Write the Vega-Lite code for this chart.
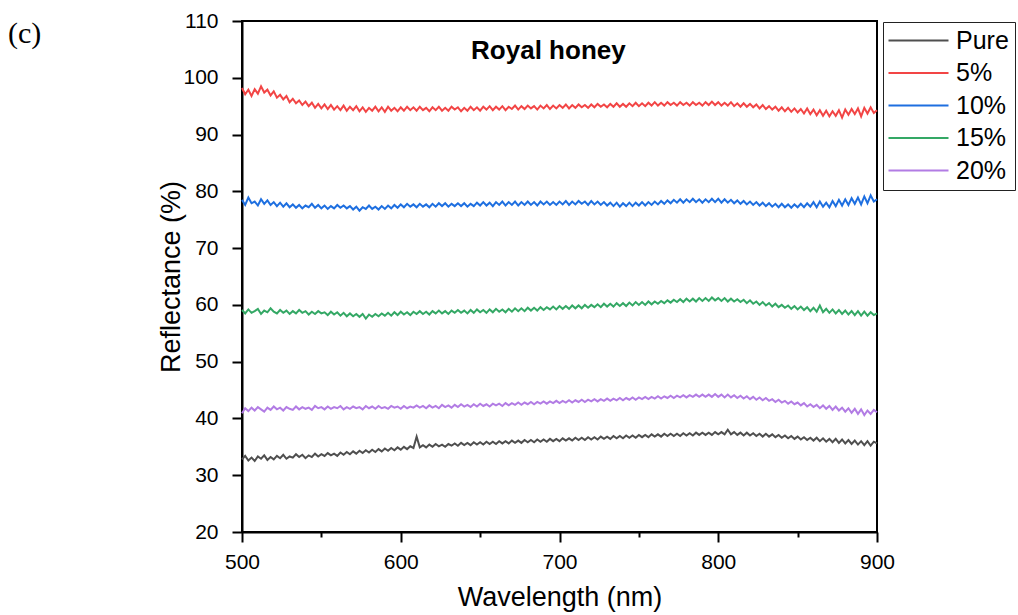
{
"$schema": "https://vega.github.io/schema/vega-lite/v6.json",
"width": 635, "height": 511,
"autosize": {"type": "none"},
"padding": {"left": 242, "top": 21, "right": 141, "bottom": 83},
"background": "white",
"title": {"text": "(c)", "anchor": "start", "frame": "group", "dx": -234, "dy": 43, "font": "Liberation Serif", "fontSize": 30, "fontWeight": "normal", "color": "black"},
"datasets": {
"pure": [{"w":500,"r":32.8},{"w":502,"r":33.4},{"w":504,"r":32.6},{"w":506,"r":33.1},{"w":508,"r":32.5},{"w":510,"r":33.3},{"w":512,"r":32.9},{"w":514,"r":33.5},{"w":516,"r":32.7},{"w":518,"r":33.2},{"w":520,"r":32.8},{"w":522,"r":33.4},{"w":524,"r":33.0},{"w":526,"r":33.6},{"w":528,"r":32.9},{"w":530,"r":33.3},{"w":532,"r":33.1},{"w":534,"r":33.7},{"w":536,"r":33.2},{"w":538,"r":33.6},{"w":540,"r":33.0},{"w":542,"r":33.5},{"w":544,"r":33.2},{"w":546,"r":33.8},{"w":548,"r":33.3},{"w":550,"r":33.7},{"w":552,"r":33.4},{"w":554,"r":33.9},{"w":556,"r":33.5},{"w":558,"r":33.8},{"w":560,"r":33.4},{"w":562,"r":34.0},{"w":564,"r":33.6},{"w":566,"r":34.1},{"w":568,"r":33.7},{"w":570,"r":34.2},{"w":572,"r":33.8},{"w":574,"r":34.3},{"w":576,"r":33.9},{"w":578,"r":34.4},{"w":580,"r":34.0},{"w":582,"r":34.5},{"w":584,"r":34.1},{"w":586,"r":34.6},{"w":588,"r":34.2},{"w":590,"r":34.7},{"w":592,"r":34.3},{"w":594,"r":34.8},{"w":596,"r":34.4},{"w":598,"r":34.9},{"w":600,"r":34.5},{"w":602,"r":35.0},{"w":604,"r":34.6},{"w":606,"r":35.1},{"w":608,"r":34.8},{"w":610,"r":36.8},{"w":612,"r":34.9},{"w":614,"r":35.3},{"w":616,"r":34.9},{"w":618,"r":35.4},{"w":620,"r":35.0},{"w":622,"r":35.5},{"w":624,"r":35.1},{"w":626,"r":35.4},{"w":628,"r":35.0},{"w":630,"r":35.5},{"w":632,"r":35.2},{"w":634,"r":35.6},{"w":636,"r":35.2},{"w":638,"r":35.7},{"w":640,"r":35.3},{"w":642,"r":35.7},{"w":644,"r":35.3},{"w":646,"r":35.8},{"w":648,"r":35.4},{"w":650,"r":35.8},{"w":652,"r":35.4},{"w":654,"r":35.9},{"w":656,"r":35.5},{"w":658,"r":35.9},{"w":660,"r":35.5},{"w":662,"r":36.0},{"w":664,"r":35.6},{"w":666,"r":36.0},{"w":668,"r":35.6},{"w":670,"r":36.1},{"w":672,"r":35.7},{"w":674,"r":36.1},{"w":676,"r":35.7},{"w":678,"r":36.2},{"w":680,"r":35.8},{"w":682,"r":36.2},{"w":684,"r":35.8},{"w":686,"r":36.3},{"w":688,"r":35.9},{"w":690,"r":36.3},{"w":692,"r":35.9},{"w":694,"r":36.4},{"w":696,"r":36.0},{"w":698,"r":36.4},{"w":700,"r":36.0},{"w":702,"r":36.5},{"w":704,"r":36.1},{"w":706,"r":36.5},{"w":708,"r":36.1},{"w":710,"r":36.6},{"w":712,"r":36.2},{"w":714,"r":36.6},{"w":716,"r":36.2},{"w":718,"r":36.7},{"w":720,"r":36.3},{"w":722,"r":36.7},{"w":724,"r":36.3},{"w":726,"r":36.8},{"w":728,"r":36.4},{"w":730,"r":36.8},{"w":732,"r":36.4},{"w":734,"r":36.9},{"w":736,"r":36.5},{"w":738,"r":36.9},{"w":740,"r":36.5},{"w":742,"r":37.0},{"w":744,"r":36.6},{"w":746,"r":37.0},{"w":748,"r":36.6},{"w":750,"r":37.1},{"w":752,"r":36.7},{"w":754,"r":37.1},{"w":756,"r":36.7},{"w":758,"r":37.2},{"w":760,"r":36.8},{"w":762,"r":37.2},{"w":764,"r":36.8},{"w":766,"r":37.3},{"w":768,"r":36.9},{"w":770,"r":37.3},{"w":772,"r":36.9},{"w":774,"r":37.3},{"w":776,"r":36.9},{"w":778,"r":37.4},{"w":780,"r":37.0},{"w":782,"r":37.4},{"w":784,"r":37.0},{"w":786,"r":37.5},{"w":788,"r":37.1},{"w":790,"r":37.5},{"w":792,"r":37.1},{"w":794,"r":37.5},{"w":796,"r":37.1},{"w":798,"r":37.6},{"w":800,"r":37.2},{"w":802,"r":37.6},{"w":804,"r":37.2},{"w":806,"r":38.0},{"w":808,"r":37.2},{"w":810,"r":37.6},{"w":812,"r":37.1},{"w":814,"r":37.5},{"w":816,"r":37.0},{"w":818,"r":37.5},{"w":820,"r":37.0},{"w":822,"r":37.4},{"w":824,"r":36.9},{"w":826,"r":37.3},{"w":828,"r":36.8},{"w":830,"r":37.3},{"w":832,"r":36.8},{"w":834,"r":37.2},{"w":836,"r":36.7},{"w":838,"r":37.1},{"w":840,"r":36.6},{"w":842,"r":37.0},{"w":844,"r":36.5},{"w":846,"r":36.9},{"w":848,"r":36.4},{"w":850,"r":36.8},{"w":852,"r":36.3},{"w":854,"r":36.7},{"w":856,"r":36.2},{"w":858,"r":36.6},{"w":860,"r":36.1},{"w":862,"r":36.6},{"w":864,"r":36.0},{"w":866,"r":36.5},{"w":868,"r":35.9},{"w":870,"r":36.4},{"w":872,"r":35.8},{"w":874,"r":36.4},{"w":876,"r":35.7},{"w":878,"r":36.3},{"w":880,"r":35.6},{"w":882,"r":36.2},{"w":884,"r":35.5},{"w":886,"r":36.1},{"w":888,"r":35.4},{"w":890,"r":36.0},{"w":892,"r":35.3},{"w":894,"r":36.0},{"w":896,"r":35.2},{"w":898,"r":35.9},{"w":900,"r":35.6}],
"p5": [{"w":500,"r":98.2},{"w":502,"r":97.1},{"w":504,"r":97.9},{"w":506,"r":96.8},{"w":508,"r":98.0},{"w":510,"r":97.2},{"w":512,"r":98.5},{"w":514,"r":97.4},{"w":516,"r":97.9},{"w":518,"r":96.9},{"w":520,"r":97.6},{"w":522,"r":96.5},{"w":524,"r":97.0},{"w":526,"r":96.2},{"w":528,"r":96.8},{"w":530,"r":95.7},{"w":532,"r":96.3},{"w":534,"r":95.5},{"w":536,"r":96.0},{"w":538,"r":95.2},{"w":540,"r":95.8},{"w":542,"r":95.0},{"w":544,"r":95.6},{"w":546,"r":94.7},{"w":548,"r":95.4},{"w":550,"r":94.6},{"w":552,"r":95.3},{"w":554,"r":94.5},{"w":556,"r":95.2},{"w":558,"r":94.4},{"w":560,"r":95.0},{"w":562,"r":94.3},{"w":564,"r":95.1},{"w":566,"r":94.2},{"w":568,"r":94.9},{"w":570,"r":94.3},{"w":572,"r":95.0},{"w":574,"r":94.1},{"w":576,"r":94.8},{"w":578,"r":94.0},{"w":580,"r":94.7},{"w":582,"r":94.2},{"w":584,"r":94.9},{"w":586,"r":94.1},{"w":588,"r":94.8},{"w":590,"r":94.0},{"w":592,"r":94.9},{"w":594,"r":94.2},{"w":596,"r":94.7},{"w":598,"r":94.1},{"w":600,"r":94.8},{"w":602,"r":94.2},{"w":604,"r":94.9},{"w":606,"r":94.3},{"w":608,"r":94.8},{"w":610,"r":94.2},{"w":612,"r":94.9},{"w":614,"r":94.3},{"w":616,"r":94.7},{"w":618,"r":94.1},{"w":620,"r":94.8},{"w":622,"r":94.3},{"w":624,"r":94.9},{"w":626,"r":94.2},{"w":628,"r":94.7},{"w":630,"r":94.2},{"w":632,"r":94.9},{"w":634,"r":94.4},{"w":636,"r":94.8},{"w":638,"r":94.1},{"w":640,"r":94.7},{"w":642,"r":94.2},{"w":644,"r":94.9},{"w":646,"r":94.3},{"w":648,"r":94.8},{"w":650,"r":94.2},{"w":652,"r":94.9},{"w":654,"r":94.4},{"w":656,"r":95.0},{"w":658,"r":94.3},{"w":660,"r":94.9},{"w":662,"r":94.4},{"w":664,"r":95.0},{"w":666,"r":94.3},{"w":668,"r":94.9},{"w":670,"r":94.5},{"w":672,"r":95.1},{"w":674,"r":94.4},{"w":676,"r":95.0},{"w":678,"r":94.5},{"w":680,"r":95.1},{"w":682,"r":94.6},{"w":684,"r":95.0},{"w":686,"r":94.4},{"w":688,"r":95.1},{"w":690,"r":94.6},{"w":692,"r":95.2},{"w":694,"r":94.5},{"w":696,"r":95.1},{"w":698,"r":94.6},{"w":700,"r":95.2},{"w":702,"r":94.7},{"w":704,"r":95.3},{"w":706,"r":94.6},{"w":708,"r":95.2},{"w":710,"r":94.7},{"w":712,"r":95.3},{"w":714,"r":94.8},{"w":716,"r":95.2},{"w":718,"r":94.7},{"w":720,"r":95.3},{"w":722,"r":94.8},{"w":724,"r":95.4},{"w":726,"r":94.9},{"w":728,"r":95.3},{"w":730,"r":94.8},{"w":732,"r":95.4},{"w":734,"r":94.9},{"w":736,"r":95.5},{"w":738,"r":94.9},{"w":740,"r":95.4},{"w":742,"r":94.9},{"w":744,"r":95.5},{"w":746,"r":95.0},{"w":748,"r":95.6},{"w":750,"r":95.0},{"w":752,"r":95.5},{"w":754,"r":95.0},{"w":756,"r":95.6},{"w":758,"r":95.1},{"w":760,"r":95.7},{"w":762,"r":95.1},{"w":764,"r":95.6},{"w":766,"r":95.1},{"w":768,"r":95.7},{"w":770,"r":95.2},{"w":772,"r":95.6},{"w":774,"r":95.1},{"w":776,"r":95.7},{"w":778,"r":95.2},{"w":780,"r":95.6},{"w":782,"r":95.1},{"w":784,"r":95.7},{"w":786,"r":95.2},{"w":788,"r":95.6},{"w":790,"r":95.1},{"w":792,"r":95.7},{"w":794,"r":95.2},{"w":796,"r":95.8},{"w":798,"r":95.2},{"w":800,"r":95.7},{"w":802,"r":95.1},{"w":804,"r":95.6},{"w":806,"r":95.1},{"w":808,"r":95.7},{"w":810,"r":95.0},{"w":812,"r":95.5},{"w":814,"r":94.9},{"w":816,"r":95.5},{"w":818,"r":94.9},{"w":820,"r":95.4},{"w":822,"r":94.8},{"w":824,"r":95.3},{"w":826,"r":94.6},{"w":828,"r":95.2},{"w":830,"r":94.5},{"w":832,"r":95.0},{"w":834,"r":94.4},{"w":836,"r":94.9},{"w":838,"r":94.2},{"w":840,"r":94.8},{"w":842,"r":94.1},{"w":844,"r":94.7},{"w":846,"r":94.0},{"w":848,"r":94.6},{"w":850,"r":93.9},{"w":852,"r":94.5},{"w":854,"r":93.7},{"w":856,"r":94.6},{"w":858,"r":93.6},{"w":860,"r":94.4},{"w":862,"r":93.4},{"w":864,"r":94.3},{"w":866,"r":93.3},{"w":868,"r":94.2},{"w":870,"r":93.2},{"w":872,"r":94.1},{"w":874,"r":93.3},{"w":876,"r":94.3},{"w":878,"r":93.0},{"w":880,"r":94.4},{"w":882,"r":93.5},{"w":884,"r":94.5},{"w":886,"r":93.6},{"w":888,"r":94.6},{"w":890,"r":93.2},{"w":892,"r":94.7},{"w":894,"r":93.7},{"w":896,"r":94.8},{"w":898,"r":93.8},{"w":900,"r":94.3}],
"p10": [{"w":500,"r":78.5},{"w":502,"r":77.6},{"w":504,"r":78.9},{"w":506,"r":77.9},{"w":508,"r":78.2},{"w":510,"r":77.5},{"w":512,"r":78.6},{"w":514,"r":77.8},{"w":516,"r":78.4},{"w":518,"r":77.6},{"w":520,"r":78.1},{"w":522,"r":77.4},{"w":524,"r":78.0},{"w":526,"r":77.3},{"w":528,"r":77.9},{"w":530,"r":77.2},{"w":532,"r":77.7},{"w":534,"r":77.1},{"w":536,"r":77.6},{"w":538,"r":77.0},{"w":540,"r":77.5},{"w":542,"r":77.2},{"w":544,"r":77.8},{"w":546,"r":77.1},{"w":548,"r":77.6},{"w":550,"r":77.0},{"w":552,"r":77.5},{"w":554,"r":76.9},{"w":556,"r":77.4},{"w":558,"r":77.0},{"w":560,"r":77.6},{"w":562,"r":77.1},{"w":564,"r":77.5},{"w":566,"r":77.0},{"w":568,"r":77.4},{"w":570,"r":76.8},{"w":572,"r":77.3},{"w":574,"r":76.6},{"w":576,"r":77.2},{"w":578,"r":76.9},{"w":580,"r":77.5},{"w":582,"r":76.9},{"w":584,"r":77.3},{"w":586,"r":76.8},{"w":588,"r":77.4},{"w":590,"r":76.9},{"w":592,"r":77.5},{"w":594,"r":77.0},{"w":596,"r":77.6},{"w":598,"r":77.1},{"w":600,"r":77.7},{"w":602,"r":77.2},{"w":604,"r":77.8},{"w":606,"r":77.3},{"w":608,"r":77.7},{"w":610,"r":77.2},{"w":612,"r":77.8},{"w":614,"r":77.3},{"w":616,"r":77.7},{"w":618,"r":77.2},{"w":620,"r":77.8},{"w":622,"r":77.3},{"w":624,"r":77.9},{"w":626,"r":77.4},{"w":628,"r":77.9},{"w":630,"r":77.3},{"w":632,"r":77.8},{"w":634,"r":77.4},{"w":636,"r":77.9},{"w":638,"r":77.4},{"w":640,"r":77.9},{"w":642,"r":77.3},{"w":644,"r":77.8},{"w":646,"r":77.4},{"w":648,"r":78.0},{"w":650,"r":77.5},{"w":652,"r":78.1},{"w":654,"r":77.5},{"w":656,"r":78.0},{"w":658,"r":77.4},{"w":660,"r":78.1},{"w":662,"r":77.6},{"w":664,"r":78.2},{"w":666,"r":77.5},{"w":668,"r":78.1},{"w":670,"r":77.6},{"w":672,"r":78.2},{"w":674,"r":77.5},{"w":676,"r":78.1},{"w":678,"r":77.6},{"w":680,"r":78.2},{"w":682,"r":77.6},{"w":684,"r":78.1},{"w":686,"r":77.5},{"w":688,"r":78.2},{"w":690,"r":77.7},{"w":692,"r":78.2},{"w":694,"r":77.6},{"w":696,"r":78.1},{"w":698,"r":77.6},{"w":700,"r":78.2},{"w":702,"r":77.7},{"w":704,"r":78.3},{"w":706,"r":77.6},{"w":708,"r":78.2},{"w":710,"r":77.7},{"w":712,"r":78.3},{"w":714,"r":77.8},{"w":716,"r":78.2},{"w":718,"r":77.6},{"w":720,"r":78.3},{"w":722,"r":77.7},{"w":724,"r":78.2},{"w":726,"r":77.6},{"w":728,"r":78.1},{"w":730,"r":77.5},{"w":732,"r":78.0},{"w":734,"r":77.4},{"w":736,"r":78.0},{"w":738,"r":77.3},{"w":740,"r":77.9},{"w":742,"r":77.4},{"w":744,"r":78.0},{"w":746,"r":77.4},{"w":748,"r":78.0},{"w":750,"r":77.5},{"w":752,"r":78.1},{"w":754,"r":77.5},{"w":756,"r":78.1},{"w":758,"r":77.6},{"w":760,"r":78.2},{"w":762,"r":77.7},{"w":764,"r":78.3},{"w":766,"r":77.8},{"w":768,"r":78.4},{"w":770,"r":77.9},{"w":772,"r":78.5},{"w":774,"r":78.0},{"w":776,"r":78.6},{"w":778,"r":78.0},{"w":780,"r":78.6},{"w":782,"r":78.1},{"w":784,"r":78.7},{"w":786,"r":78.1},{"w":788,"r":78.6},{"w":790,"r":78.0},{"w":792,"r":78.6},{"w":794,"r":78.1},{"w":796,"r":78.7},{"w":798,"r":78.1},{"w":800,"r":78.7},{"w":802,"r":78.0},{"w":804,"r":78.6},{"w":806,"r":78.0},{"w":808,"r":78.5},{"w":810,"r":77.9},{"w":812,"r":78.4},{"w":814,"r":77.8},{"w":816,"r":78.3},{"w":818,"r":77.7},{"w":820,"r":78.2},{"w":822,"r":77.6},{"w":824,"r":78.1},{"w":826,"r":77.5},{"w":828,"r":78.0},{"w":830,"r":77.4},{"w":832,"r":77.9},{"w":834,"r":77.3},{"w":836,"r":77.8},{"w":838,"r":77.2},{"w":840,"r":77.8},{"w":842,"r":77.2},{"w":844,"r":77.7},{"w":846,"r":77.1},{"w":848,"r":77.7},{"w":850,"r":77.2},{"w":852,"r":77.8},{"w":854,"r":77.2},{"w":856,"r":77.9},{"w":858,"r":77.3},{"w":860,"r":78.1},{"w":862,"r":77.2},{"w":864,"r":78.2},{"w":866,"r":77.3},{"w":868,"r":78.0},{"w":870,"r":77.2},{"w":872,"r":78.3},{"w":874,"r":77.4},{"w":876,"r":78.5},{"w":878,"r":77.5},{"w":880,"r":78.6},{"w":882,"r":77.6},{"w":884,"r":78.8},{"w":886,"r":77.8},{"w":888,"r":78.9},{"w":890,"r":77.7},{"w":892,"r":79.1},{"w":894,"r":77.9},{"w":896,"r":79.3},{"w":898,"r":78.2},{"w":900,"r":78.6}],
"p15": [{"w":500,"r":59.1},{"w":502,"r":58.5},{"w":504,"r":59.2},{"w":506,"r":58.6},{"w":508,"r":58.9},{"w":510,"r":59.3},{"w":512,"r":58.4},{"w":514,"r":59.0},{"w":516,"r":58.7},{"w":518,"r":59.4},{"w":520,"r":58.8},{"w":522,"r":58.5},{"w":524,"r":59.1},{"w":526,"r":58.6},{"w":528,"r":59.0},{"w":530,"r":58.4},{"w":532,"r":58.9},{"w":534,"r":58.5},{"w":536,"r":59.1},{"w":538,"r":58.6},{"w":540,"r":58.9},{"w":542,"r":58.3},{"w":544,"r":58.8},{"w":546,"r":58.4},{"w":548,"r":58.9},{"w":550,"r":58.5},{"w":552,"r":58.7},{"w":554,"r":58.2},{"w":556,"r":58.8},{"w":558,"r":58.3},{"w":560,"r":58.7},{"w":562,"r":58.1},{"w":564,"r":58.6},{"w":566,"r":58.0},{"w":568,"r":58.5},{"w":570,"r":58.0},{"w":572,"r":58.4},{"w":574,"r":57.9},{"w":576,"r":58.4},{"w":578,"r":57.6},{"w":580,"r":58.3},{"w":582,"r":57.9},{"w":584,"r":58.4},{"w":586,"r":58.0},{"w":588,"r":58.5},{"w":590,"r":58.1},{"w":592,"r":58.6},{"w":594,"r":58.1},{"w":596,"r":58.7},{"w":598,"r":58.2},{"w":600,"r":58.8},{"w":602,"r":58.3},{"w":604,"r":58.7},{"w":606,"r":58.2},{"w":608,"r":58.8},{"w":610,"r":58.4},{"w":612,"r":58.9},{"w":614,"r":58.4},{"w":616,"r":58.8},{"w":618,"r":58.3},{"w":620,"r":58.9},{"w":622,"r":58.5},{"w":624,"r":59.0},{"w":626,"r":58.5},{"w":628,"r":58.9},{"w":630,"r":58.4},{"w":632,"r":59.0},{"w":634,"r":58.6},{"w":636,"r":59.1},{"w":638,"r":58.6},{"w":640,"r":59.0},{"w":642,"r":58.5},{"w":644,"r":59.1},{"w":646,"r":58.6},{"w":648,"r":59.2},{"w":650,"r":58.7},{"w":652,"r":59.1},{"w":654,"r":58.6},{"w":656,"r":59.2},{"w":658,"r":58.7},{"w":660,"r":59.3},{"w":662,"r":58.8},{"w":664,"r":59.2},{"w":666,"r":58.7},{"w":668,"r":59.3},{"w":670,"r":58.8},{"w":672,"r":59.4},{"w":674,"r":58.9},{"w":676,"r":59.4},{"w":678,"r":58.9},{"w":680,"r":59.5},{"w":682,"r":59.0},{"w":684,"r":59.5},{"w":686,"r":59.0},{"w":688,"r":59.6},{"w":690,"r":59.1},{"w":692,"r":59.6},{"w":694,"r":59.2},{"w":696,"r":59.7},{"w":698,"r":59.2},{"w":700,"r":59.8},{"w":702,"r":59.3},{"w":704,"r":59.8},{"w":706,"r":59.3},{"w":708,"r":59.9},{"w":710,"r":59.4},{"w":712,"r":59.9},{"w":714,"r":59.4},{"w":716,"r":60.0},{"w":718,"r":59.5},{"w":720,"r":60.0},{"w":722,"r":59.6},{"w":724,"r":60.1},{"w":726,"r":59.6},{"w":728,"r":60.2},{"w":730,"r":59.7},{"w":732,"r":60.2},{"w":734,"r":59.7},{"w":736,"r":60.3},{"w":738,"r":59.8},{"w":740,"r":60.3},{"w":742,"r":59.8},{"w":744,"r":60.4},{"w":746,"r":59.9},{"w":748,"r":60.5},{"w":750,"r":60.0},{"w":752,"r":60.5},{"w":754,"r":60.0},{"w":756,"r":60.6},{"w":758,"r":60.1},{"w":760,"r":60.6},{"w":762,"r":60.2},{"w":764,"r":60.7},{"w":766,"r":60.3},{"w":768,"r":60.8},{"w":770,"r":60.4},{"w":772,"r":60.9},{"w":774,"r":60.5},{"w":776,"r":61.0},{"w":778,"r":60.5},{"w":780,"r":61.1},{"w":782,"r":60.6},{"w":784,"r":61.1},{"w":786,"r":60.6},{"w":788,"r":61.2},{"w":790,"r":60.7},{"w":792,"r":61.2},{"w":794,"r":60.7},{"w":796,"r":61.3},{"w":798,"r":60.8},{"w":800,"r":61.2},{"w":802,"r":60.7},{"w":804,"r":61.2},{"w":806,"r":60.6},{"w":808,"r":61.1},{"w":810,"r":60.6},{"w":812,"r":61.0},{"w":814,"r":60.5},{"w":816,"r":60.9},{"w":818,"r":60.3},{"w":820,"r":60.8},{"w":822,"r":60.2},{"w":824,"r":60.6},{"w":826,"r":60.0},{"w":828,"r":60.5},{"w":830,"r":59.9},{"w":832,"r":60.3},{"w":834,"r":59.7},{"w":836,"r":60.2},{"w":838,"r":59.6},{"w":840,"r":60.0},{"w":842,"r":59.5},{"w":844,"r":59.9},{"w":846,"r":59.3},{"w":848,"r":59.8},{"w":850,"r":59.2},{"w":852,"r":59.7},{"w":854,"r":59.1},{"w":856,"r":59.6},{"w":858,"r":58.9},{"w":860,"r":59.5},{"w":862,"r":58.8},{"w":864,"r":59.9},{"w":866,"r":58.7},{"w":868,"r":59.3},{"w":870,"r":58.6},{"w":872,"r":59.2},{"w":874,"r":58.5},{"w":876,"r":59.1},{"w":878,"r":58.4},{"w":880,"r":59.0},{"w":882,"r":58.3},{"w":884,"r":58.9},{"w":886,"r":58.2},{"w":888,"r":58.9},{"w":890,"r":58.1},{"w":892,"r":58.8},{"w":894,"r":58.1},{"w":896,"r":58.7},{"w":898,"r":58.2},{"w":900,"r":58.5}],
"p20": [{"w":500,"r":40.9},{"w":502,"r":41.8},{"w":504,"r":41.3},{"w":506,"r":41.9},{"w":508,"r":41.4},{"w":510,"r":42.0},{"w":512,"r":41.6},{"w":514,"r":41.2},{"w":516,"r":41.9},{"w":518,"r":41.5},{"w":520,"r":42.1},{"w":522,"r":41.6},{"w":524,"r":41.9},{"w":526,"r":41.4},{"w":528,"r":42.0},{"w":530,"r":41.7},{"w":532,"r":41.5},{"w":534,"r":42.1},{"w":536,"r":41.6},{"w":538,"r":42.0},{"w":540,"r":41.7},{"w":542,"r":41.9},{"w":544,"r":41.5},{"w":546,"r":42.2},{"w":548,"r":41.8},{"w":550,"r":42.0},{"w":552,"r":41.6},{"w":554,"r":42.1},{"w":556,"r":41.7},{"w":558,"r":42.0},{"w":560,"r":41.8},{"w":562,"r":42.2},{"w":564,"r":41.6},{"w":566,"r":42.0},{"w":568,"r":41.7},{"w":570,"r":42.1},{"w":572,"r":41.8},{"w":574,"r":42.0},{"w":576,"r":41.6},{"w":578,"r":42.2},{"w":580,"r":41.8},{"w":582,"r":42.1},{"w":584,"r":41.7},{"w":586,"r":42.2},{"w":588,"r":41.8},{"w":590,"r":42.0},{"w":592,"r":41.7},{"w":594,"r":42.2},{"w":596,"r":41.9},{"w":598,"r":42.1},{"w":600,"r":41.7},{"w":602,"r":42.2},{"w":604,"r":41.8},{"w":606,"r":42.1},{"w":608,"r":41.9},{"w":610,"r":42.3},{"w":612,"r":41.9},{"w":614,"r":42.2},{"w":616,"r":41.8},{"w":618,"r":42.3},{"w":620,"r":41.9},{"w":622,"r":42.2},{"w":624,"r":41.8},{"w":626,"r":42.4},{"w":628,"r":42.0},{"w":630,"r":42.3},{"w":632,"r":41.9},{"w":634,"r":42.4},{"w":636,"r":42.0},{"w":638,"r":42.5},{"w":640,"r":42.1},{"w":642,"r":42.4},{"w":644,"r":42.0},{"w":646,"r":42.5},{"w":648,"r":42.1},{"w":650,"r":42.6},{"w":652,"r":42.2},{"w":654,"r":42.5},{"w":656,"r":42.1},{"w":658,"r":42.6},{"w":660,"r":42.3},{"w":662,"r":42.6},{"w":664,"r":42.2},{"w":666,"r":42.7},{"w":668,"r":42.3},{"w":670,"r":42.7},{"w":672,"r":42.4},{"w":674,"r":42.8},{"w":676,"r":42.4},{"w":678,"r":42.8},{"w":680,"r":42.5},{"w":682,"r":42.9},{"w":684,"r":42.5},{"w":686,"r":42.9},{"w":688,"r":42.6},{"w":690,"r":43.0},{"w":692,"r":42.6},{"w":694,"r":43.0},{"w":696,"r":42.7},{"w":698,"r":43.1},{"w":700,"r":42.7},{"w":702,"r":43.1},{"w":704,"r":42.8},{"w":706,"r":43.2},{"w":708,"r":42.8},{"w":710,"r":43.2},{"w":712,"r":42.9},{"w":714,"r":43.3},{"w":716,"r":42.9},{"w":718,"r":43.3},{"w":720,"r":43.0},{"w":722,"r":43.4},{"w":724,"r":43.0},{"w":726,"r":43.4},{"w":728,"r":43.1},{"w":730,"r":43.5},{"w":732,"r":43.1},{"w":734,"r":43.5},{"w":736,"r":43.2},{"w":738,"r":43.6},{"w":740,"r":43.2},{"w":742,"r":43.6},{"w":744,"r":43.3},{"w":746,"r":43.7},{"w":748,"r":43.3},{"w":750,"r":43.7},{"w":752,"r":43.4},{"w":754,"r":43.8},{"w":756,"r":43.4},{"w":758,"r":43.8},{"w":760,"r":43.5},{"w":762,"r":43.9},{"w":764,"r":43.5},{"w":766,"r":43.9},{"w":768,"r":43.6},{"w":770,"r":44.0},{"w":772,"r":43.6},{"w":774,"r":44.0},{"w":776,"r":43.7},{"w":778,"r":44.1},{"w":780,"r":43.7},{"w":782,"r":44.1},{"w":784,"r":43.8},{"w":786,"r":44.2},{"w":788,"r":43.8},{"w":790,"r":44.2},{"w":792,"r":43.8},{"w":794,"r":44.2},{"w":796,"r":43.8},{"w":798,"r":44.3},{"w":800,"r":43.8},{"w":802,"r":44.2},{"w":804,"r":43.7},{"w":806,"r":44.2},{"w":808,"r":43.7},{"w":810,"r":44.1},{"w":812,"r":43.6},{"w":814,"r":44.0},{"w":816,"r":43.5},{"w":818,"r":43.9},{"w":820,"r":43.4},{"w":822,"r":43.8},{"w":824,"r":43.3},{"w":826,"r":43.7},{"w":828,"r":43.2},{"w":830,"r":43.6},{"w":832,"r":43.1},{"w":834,"r":43.4},{"w":836,"r":42.9},{"w":838,"r":43.3},{"w":840,"r":42.8},{"w":842,"r":43.1},{"w":844,"r":42.6},{"w":846,"r":43.0},{"w":848,"r":42.5},{"w":850,"r":42.8},{"w":852,"r":42.3},{"w":854,"r":42.7},{"w":856,"r":42.1},{"w":858,"r":42.5},{"w":860,"r":42.0},{"w":862,"r":42.4},{"w":864,"r":41.8},{"w":866,"r":42.3},{"w":868,"r":41.7},{"w":870,"r":42.2},{"w":872,"r":41.5},{"w":874,"r":42.1},{"w":876,"r":41.4},{"w":878,"r":41.9},{"w":880,"r":41.2},{"w":882,"r":41.8},{"w":884,"r":41.0},{"w":886,"r":41.7},{"w":888,"r":40.8},{"w":890,"r":41.6},{"w":892,"r":40.6},{"w":894,"r":41.4},{"w":896,"r":40.8},{"w":898,"r":41.5},{"w":900,"r":41.1}],
"label": [{"t": "Royal honey"}]
},
"layer": [
  {"data": {"name": "pure"}, "mark": {"type": "line", "strokeWidth": 2},
   "encoding": {
    "x": {"field": "w", "type": "quantitative",
      "scale": {"domain": [500, 900], "nice": false, "zero": false},
      "axis": {"title": "Wavelength (nm)", "values": [500,550,600,650,700,750,800,850,900],
        "labelExpr": "datum.value % 100 === 0 ? datum.label : ''", "labelFlush": false,
        "tickSize": {"condition": {"test": "datum.value % 100 === 0", "value": 10}, "value": 5},
        "format": "d", "labelPadding": 9, "titlePadding": 12}},
    "y": {"field": "r", "type": "quantitative",
      "scale": {"domain": [20, 110], "nice": false, "zero": false},
      "axis": {"title": "Reflectance (%)", "values": [20,25,30,35,40,45,50,55,60,65,70,75,80,85,90,95,100,105,110],
        "labelExpr": "datum.value % 10 === 0 ? datum.label : ''", "labelFlush": false,
        "tickSize": {"condition": {"test": "datum.value % 10 === 0", "value": 10}, "value": 5},
        "format": "d", "labelPadding": 14, "titlePadding": -3}},
    "color": {"datum": "Pure", "type": "nominal",
     "scale": {"domain": ["Pure","5%","10%","15%","20%"], "range": ["#4f4f4f","#f24545","#1e6fe0","#34a865","#b27ce4"]},
     "legend": {"title": null, "orient": "none", "legendX": 641, "legendY": 1, "symbolType": "M-3,0H3", "symbolSize": 400, "symbolStrokeWidth": 2,
       "symbolOffset": 17, "labelFontSize": 25, "labelFont": "Liberation Sans", "labelColor": "black", "strokeColor": "#222222", "fillColor": "white", "padding": 6, "rowPadding": 6.5, "labelOffset": 25}}}},
  {"data": {"name": "p5"}, "mark": {"type": "line", "strokeWidth": 2}, "encoding": {"x": {"field": "w", "type": "quantitative"}, "y": {"field": "r", "type": "quantitative"}, "color": {"datum": "5%", "type": "nominal"}}},
  {"data": {"name": "p10"}, "mark": {"type": "line", "strokeWidth": 2}, "encoding": {"x": {"field": "w", "type": "quantitative"}, "y": {"field": "r", "type": "quantitative"}, "color": {"datum": "10%", "type": "nominal"}}},
  {"data": {"name": "p15"}, "mark": {"type": "line", "strokeWidth": 2}, "encoding": {"x": {"field": "w", "type": "quantitative"}, "y": {"field": "r", "type": "quantitative"}, "color": {"datum": "15%", "type": "nominal"}}},
  {"data": {"name": "p20"}, "mark": {"type": "line", "strokeWidth": 2}, "encoding": {"x": {"field": "w", "type": "quantitative"}, "y": {"field": "r", "type": "quantitative"}, "color": {"datum": "20%", "type": "nominal"}}},
  {"data": {"name": "label"}, "mark": {"type": "text", "font": "Liberation Sans", "fontSize": 26, "fontWeight": "bold", "fill": "black", "baseline": "middle", "align": "center"},
   "encoding": {"x": {"datum": 693, "type": "quantitative"}, "y": {"datum": 104.8, "type": "quantitative"}, "text": {"field": "t", "type": "nominal"}}}
],
"config": {
  "view": {"stroke": "black", "strokeWidth": 2},
  "axis": {"grid": false, "domainColor": "black", "domainWidth": 2, "tickColor": "black", "tickWidth": 2,
    "labelFont": "Liberation Sans", "labelFontSize": 21, "labelColor": "black",
    "titleFont": "Liberation Sans", "titleFontSize": 27, "titleFontWeight": "normal", "titleColor": "black"}
}
}
